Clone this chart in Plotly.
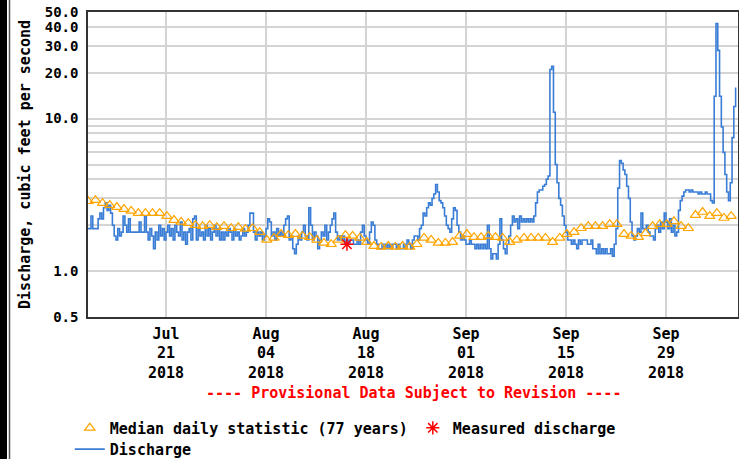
import pandas as pd
import plotly.graph_objects as go

# ---- data ---------------------------------------------------------------
# Discharge, cubic feet per second, every 6 hours starting 2018-07-10 00:00
discharge_cfs = [
    1.9, 1.9, 2.3, 1.9,   1.9, 1.9, 2.2, 2.4,   2.2, 2.6, 2.8, 2.5,   2.7, 2.4, 2.0, 1.7,
    1.6, 1.9, 1.7, 1.8,   2.3, 2.0, 1.8, 2.2,   1.8, 1.8, 1.8, 1.8,   1.8, 2.1, 1.8, 1.8,
    2.3, 1.8, 1.6, 1.9,   1.7, 1.4, 1.8, 1.6,   2.0, 1.7, 1.9, 1.6,   1.8, 2.0, 1.7, 1.9,
    1.6, 2.0, 1.8, 1.7,   2.1, 1.6, 1.8, 1.5,   1.8, 1.9, 1.6, 2.2,   2.3, 1.6, 1.9, 1.7,
    1.8, 1.6, 2.0, 1.7,   1.9, 1.6, 1.8, 2.0,   1.7, 1.9, 1.6, 1.8,   1.6, 1.8, 1.7, 1.9,
    1.8, 1.6, 1.9, 1.7,   1.8, 1.6, 1.7, 1.9,   1.7, 1.8, 2.0, 2.4,   2.4, 1.8, 1.6, 1.8,
    1.7, 1.8, 1.6, 1.7,   1.9, 2.2, 2.1, 1.7,   1.8, 1.6, 1.9, 1.7,   1.8, 1.7, 2.0, 2.2,
    2.3, 1.6, 1.7, 1.4,   1.3, 1.5, 1.7, 1.6,   1.8, 2.0, 1.7, 1.6,   2.6, 2.0, 1.6, 1.8,
    1.7, 1.4, 1.6, 1.8,   1.7, 2.0, 1.6, 1.8,   2.0, 2.2, 2.4, 1.8,   1.6, 1.7, 1.6, 1.7,
    1.5, 1.6, 1.5, 1.6,   1.6, 1.5, 1.5, 1.6,   1.5, 1.8, 2.0, 1.7,   1.6, 1.5, 1.8, 2.1,
    2.0, 1.6, 1.5, 1.4,   1.4, 1.5, 1.4, 1.5,   1.4, 1.5, 1.4, 1.5,   1.5, 1.4, 1.5, 1.4,
    1.4, 1.5, 1.4, 1.6,   1.5, 1.4, 1.6, 1.7,   1.7, 1.6, 1.9, 2.0,   2.4, 2.3, 2.6, 2.8,
    2.7, 3.0, 3.2, 3.7,   3.3, 2.9, 2.8, 2.6,   2.3, 2.0, 1.9, 1.8,   2.2, 2.6, 2.5, 2.0,
    1.8, 1.6, 1.7, 1.6,   1.5, 1.5, 1.6, 1.5,   1.5, 1.4, 1.5, 1.4,   1.5, 1.4, 1.5, 1.4,
    2.0, 1.4, 1.2, 1.3,   1.3, 1.2, 1.5, 2.2,   1.6, 1.4, 1.3, 1.5,   1.7, 2.0, 2.3, 2.1,
    2.2, 1.9, 2.3, 2.1,   2.2, 2.1, 2.2, 2.1,   2.2, 2.1, 2.3, 2.8,   3.3, 3.4, 3.4, 3.6,
    3.7, 4.0, 4.2, 21.0,  22.0, 11.0, 5.0, 3.8,  3.0, 2.7, 2.3, 2.0,   1.8, 1.6, 1.6, 1.5,
    1.6, 1.5, 1.4, 1.6,   1.5, 1.6, 1.6, 1.6,   1.5, 1.5, 1.6, 1.4,   1.4, 1.3, 1.5, 1.3,
    1.4, 1.3, 1.4, 1.3,   1.3, 1.4, 1.25, 1.5,  1.9, 3.5, 5.3, 5.1,   4.6, 4.3, 3.6, 3.0,
    2.1, 1.7, 1.6, 1.7,   1.9, 1.8, 2.4, 1.9,   1.9, 2.0, 1.8, 1.7,   1.7, 1.6, 1.9, 2.0,
    1.8, 2.1, 1.9, 2.4,   2.1, 1.9, 2.2, 1.8,   2.0, 1.7, 1.8, 2.5,   2.9, 3.1, 3.3, 3.4,
    3.4, 3.3, 3.4, 3.3,   3.3, 3.3, 3.2, 3.3,   3.2, 3.2, 3.3, 3.2,   3.2, 2.9, 2.8, 14.0,
    42.0, 28.0, 14.0, 8.8, 6.0, 4.3, 3.3, 2.9,  3.8, 7.5, 12.0, 16.0,
]

# Median of daily mean values (77 years), one per day from 2018-07-10
median_cfs = [
    2.87, 2.92, 2.79, 2.71, 2.63, 2.55, 2.48, 2.40, 2.40, 2.40,
    2.40, 2.29, 2.16, 2.10, 2.06, 2.00, 1.97, 2.00, 1.94, 1.97,
    1.91, 1.94, 1.89, 1.91, 1.80, 1.60, 1.65, 1.75, 1.72, 1.75,
    1.70, 1.67, 1.60, 1.53, 1.50, 1.60, 1.72, 1.70, 1.65, 1.55,
    1.46, 1.44, 1.46, 1.44, 1.46, 1.44, 1.50, 1.65, 1.60, 1.53,
    1.53, 1.55, 1.70, 1.75, 1.67, 1.67, 1.70, 1.67, 1.65, 1.55,
    1.60, 1.65, 1.65, 1.65, 1.65, 1.55, 1.65, 1.75, 1.80, 1.91,
    1.97, 1.97, 1.97, 2.03, 2.03, 1.75, 1.70, 1.67, 1.77, 1.97,
    2.03, 2.03, 2.12, 1.97, 1.91, 2.33, 2.44, 2.29, 2.40, 2.23,
    2.29,
]

# Field measurement
measured_time = ["2018-08-15 08:00"]
measured_cfs = [1.5]

# Axis ticks
x_tick_dates = ["2018-07-21", "2018-08-04", "2018-08-18",
                "2018-09-01", "2018-09-15", "2018-09-29"]
x_tick_labels = ["Jul<br>21<br>2018", "Aug<br>04<br>2018", "Aug<br>18<br>2018",
                 "Sep<br>01<br>2018", "Sep<br>15<br>2018", "Sep<br>29<br>2018"]
y_grid_values = [0.5, 1, 2, 3, 4, 5, 6, 7, 8, 9, 10, 20, 30, 40, 50]
y_grid_labels = ["0.5", "1.0", "", "", "", "", "", "", "", "", "10.0",
                 "20.0", "30.0", "40.0", "50.0"]

discharge_time = pd.date_range("2018-07-10 00:00", periods=len(discharge_cfs), freq="6h")
median_time = pd.date_range("2018-07-10 03:00", periods=len(median_cfs), freq="1D")

# ---- figure -------------------------------------------------------------
FONT = "DejaVu Sans Mono"
ORANGE = "#FFA500"
BLUE = "#3A7DD6"

fig = go.Figure()

fig.add_trace(go.Scatter(
    x=discharge_time, y=discharge_cfs, mode="lines", name="Discharge",
    line=dict(color=BLUE, width=1.6, shape="hv"),
    legend="legend2", hoverinfo="skip",
))
fig.add_trace(go.Scatter(
    x=median_time, y=median_cfs, mode="markers",
    name="Median daily statistic (77 years)",
    marker=dict(symbol="triangle-up-open", size=9, color=ORANGE,
                line=dict(color=ORANGE, width=1.2)),
    legendrank=1,
))
fig.add_trace(go.Scatter(
    x=measured_time, y=measured_cfs, mode="markers", name="Measured discharge",
    marker=dict(symbol="asterisk-open", size=11, color="#FF0000",
                line=dict(color="#FF0000", width=1.5)),
    legendrank=2,
))

text_font = dict(family=FONT, size=15, color="#000000", weight="bold")
ytick_font = dict(family=FONT, size=14, color="#000000", weight="bold")

fig.update_layout(
    width=739, height=459,
    margin=dict(l=88, r=1, t=12, b=142, autoexpand=False),
    paper_bgcolor="white", plot_bgcolor="white",
    font=text_font,
    showlegend=True,
    legend=dict(
        orientation="h", x=-0.028, xanchor="left", y=-0.31, yanchor="top",
        font=text_font, bgcolor="rgba(0,0,0,0)",
    ),
    legend2=dict(
        orientation="h", x=-0.028, xanchor="left", y=-0.38, yanchor="top",
        font=text_font, bgcolor="rgba(0,0,0,0)",
    ),
    xaxis=dict(
        type="date",
        range=["2018-07-10 02:00", "2018-10-09 02:00"],
        tickmode="array", tickvals=x_tick_dates, ticktext=x_tick_labels,
        tickfont=text_font, ticks="", ticklabelstandoff=2,
        showgrid=True, gridcolor="#d4d4d4", gridwidth=1.5,
        showline=True, linecolor="#333333", linewidth=1.5, mirror=True,
        zeroline=False,
    ),
    yaxis=dict(
        type="log",
        range=[-0.30103, 1.69897],
        tickmode="array", tickvals=y_grid_values, ticktext=y_grid_labels,
        tickfont=ytick_font, ticks="", ticklabelstandoff=5,
        showgrid=True, gridcolor="#d4d4d4", gridwidth=1.5,
        showline=True, linecolor="#333333", linewidth=1.5, mirror=True,
        zeroline=False,
        title=dict(text="Discharge, cubic feet per second",
                   font=text_font, standoff=10),
    ),
    annotations=[dict(
        text="---- Provisional Data Subject to Revision ----",
        xref="paper", yref="paper", x=0.5, y=-0.249,
        xanchor="center", yanchor="middle", showarrow=False,
        font=dict(family=FONT, size=15, color="#FF0000", weight="bold"),
    )],
    shapes=[
        # dark frame strip along the left edge of the page
        dict(type="rect", xref="paper", yref="paper",
             xsizemode="pixel", xanchor=0, x0=-88, x1=-81,
             y0=-1, y1=1.5, fillcolor="#000000", line=dict(width=0),
             layer="above"),
        dict(type="line", xref="paper", yref="paper",
             xsizemode="pixel", xanchor=0, x0=-78.5, x1=-78.5,
             y0=-1, y1=1.5, line=dict(color="#555555", width=1.5),
             layer="above"),
    ],
)

fig.write_html("out.html")
